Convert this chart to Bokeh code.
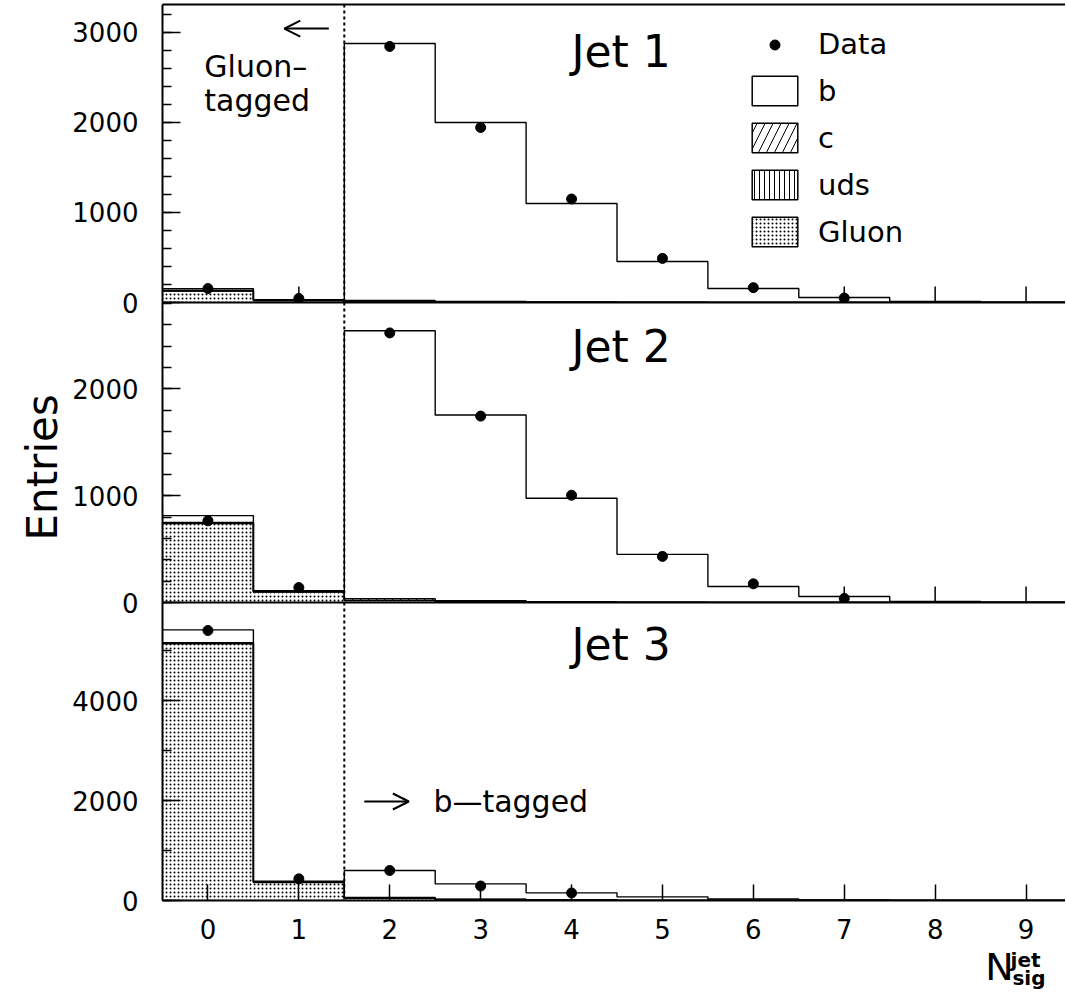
import numpy as np
from bokeh.plotting import figure
from bokeh.layouts import column
from bokeh.models import (Range1d, SingleIntervalTicker, FixedTicker, LinearAxis, Span,
                          Label, Arrow, OpenHead, Legend, LegendItem, Title)
from bokeh.embed import file_html
from bokeh.resources import INLINE

# ---------------- data ----------------
bins = [0, 1, 2, 3, 4, 5, 6, 7, 8, 9]
x_tick_labels = ["0", "1", "2", "3", "4", "5", "6", "7", "8", "9"]
jet_names = ["Jet 1", "Jet 2", "Jet 3"]
legend_labels = ["Data", "b", "c", "uds", "Gluon"]

# Jet 1
gluon_j1 = [126, 20, 5, 2, 1, 0, 0, 0, 0, 0]
uds_j1 = [3, 4, 3, 2, 1, 0, 0, 0, 0, 0]
c_j1 = [4, 4, 14, 8, 4, 2, 1, 0, 0, 0]
b_j1 = [19, 4, 2856, 1988, 1094, 453, 154, 55, 12, 3]
data_j1 = [155, 45, 2845, 1944, 1150, 490, 165, 50]

# Jet 2
gluon_j2 = [739, 97, 18, 6, 2, 1, 0, 0, 0, 0]
uds_j2 = [4, 4, 4, 2, 1, 0, 0, 0, 0, 0]
c_j2 = [6, 4, 14, 9, 4, 2, 1, 0, 0, 0]
b_j2 = [65, 5, 2509, 1739, 970, 448, 149, 56, 10, 2]
data_j2 = [765, 140, 2525, 1746, 1005, 432, 175, 38]

# Jet 3
gluon_j3 = [5133, 360, 45, 18, 6, 2, 1, 0, 0, 0]
uds_j3 = [10, 8, 5, 3, 1, 0, 0, 0, 0, 0]
c_j3 = [15, 8, 12, 7, 3, 1, 0, 0, 0, 0]
b_j3 = [255, 11, 538, 305, 143, 70, 29, 10, 3, 1]
data_j3 = [5400, 433, 600, 290, 150]

# ---------------- styling ----------------
FONT = "DejaVu Sans"
TICK_FS = "26px"
FRAME_W = 903
LEFT = 162
X_END = -0.5 + FRAME_W / 90.9
OVER = 18
edges = np.array(bins + [bins[-1] + 1], dtype=float) - 0.5

STYLE_G = dict(hatch_pattern="dot", hatch_scale=4, hatch_weight=0.75)
STYLE_UDS = dict(hatch_pattern="vertical_line", hatch_scale=5, hatch_weight=1.0)
STYLE_C = dict(hatch_pattern="right_diagonal_line", hatch_scale=16, hatch_weight=1.0)
STYLE_B = dict(hatch_pattern=None)
comp_styles = [STYLE_G, STYLE_UDS, STYLE_C, STYLE_B]


def style_yaxis(ax):
    ax.axis_line_width = 2
    ax.axis_line_color = "black"
    ax.major_tick_in = 18
    ax.major_tick_out = 0
    ax.minor_tick_in = 9
    ax.minor_tick_out = 0
    ax.major_tick_line_width = 1.5
    ax.minor_tick_line_width = 1.5
    ax.major_label_standoff = 24
    ax.major_label_text_font = FONT
    ax.major_label_text_font_size = TICK_FS
    ax.major_label_text_color = "black"


def plain_axis():
    ax = LinearAxis(ticker=FixedTicker(ticks=[]))
    ax.axis_line_width = 2
    ax.axis_line_color = "black"
    ax.major_tick_in = 0
    ax.major_tick_out = 0
    ax.minor_tick_in = 0
    ax.minor_tick_out = 0
    ax.major_label_standoff = 0
    return ax


def make_panel(comps, data, y_end, frame_h, interval, minors, top=False, bottom=False,
               overlap=0, border_bottom=OVER, border_top=0):
    p = figure(frame_width=FRAME_W, frame_height=frame_h,
               x_range=shared_x, y_range=Range1d(0, y_end),
               output_backend="svg", toolbar_location=None,
               x_axis_type=None, y_axis_type=None,
               min_border_left=LEFT, min_border_right=0, min_border_top=border_top,
               min_border_bottom=border_bottom)
    p.outline_line_color = None
    p.background_fill_color = None
    p.border_fill_color = None
    if overlap:
        p.margin = (-overlap, 0, 0, 0)

    yax = LinearAxis(ticker=SingleIntervalTicker(interval=interval, num_minor_ticks=minors))
    style_yaxis(yax)
    p.add_layout(yax, "left")

    if bottom:
        xax = LinearAxis(ticker=FixedTicker(ticks=bins),
                         major_label_overrides={b: s for b, s in zip(bins, x_tick_labels)})
        xax.axis_line_width = 2
        xax.major_tick_in = 16
        xax.major_tick_out = 0
        xax.major_tick_line_width = 1.5
        xax.minor_tick_in = 0
        xax.minor_tick_out = 0
        xax.major_label_text_font = FONT
        xax.major_label_text_color = "black"
        xax.major_label_text_font_size = TICK_FS
        xax.major_label_standoff = 18
        p.add_layout(xax, "below")
    else:
        p.add_layout(plain_axis(), "below")
        # inward x ticks at the panel bottom
        p.scatter(x=bins, y=[0] * len(bins), marker="dash", angle=np.pi / 2, size=32,
                  line_color="black", line_width=1.5)

    if top:
        p.add_layout(plain_axis(), "above")

    # stacked histogram fills
    lower = np.zeros(len(bins))
    levels = []
    for comp, st in zip(comps, comp_styles):
        upper = lower + np.array(comp, dtype=float)
        p.quad(left=edges[:-1], right=edges[1:], bottom=lower, top=upper,
               fill_color="white", line_alpha=0, hatch_color="black", **st)
        levels.append(upper)
        lower = upper
    # outlines
    for lev in levels:
        p.step(x=edges, y=np.append(lev, lev[-1]), mode="after",
               line_color="black", line_width=1.4)

    dr = p.scatter(x=bins[:len(data)], y=data, size=10, color="black")

    p.add_layout(Span(location=1.5, dimension="height", line_dash="3 3",
                      line_width=2, line_color="black"))
    return p, dr


shared_x = Range1d(-0.5, X_END)

p1, d1 = make_panel([gluon_j1, uds_j1, c_j1, b_j1], data_j1, 3311, 298, 1000, 5,
                    top=True, border_top=4)
p2, d2 = make_panel([gluon_j2, uds_j2, c_j2, b_j2], data_j2, 2810, 300, 1000, 5,
                    overlap=OVER)
p3, d3 = make_panel([gluon_j3, uds_j3, c_j3, b_j3], data_j3, 5960, 298, 2000, 2,
                    bottom=True, overlap=OVER, border_bottom=56)

# "Entries" as a left-side title of the middle panel, anchored near its bottom
p2.add_layout(Title(text="Entries", align="left", offset=62, standoff=5,
                    text_font=FONT, text_font_size="42px", text_font_style="normal",
                    text_color="black"), "left")

# Jet labels
for p, name, yv in [(p1, jet_names[0], 2789), (p2, jet_names[1], 2397), (p3, jet_names[2], 5120)]:
    p.add_layout(Label(x=4.0, y=yv, text=name, text_font=FONT, text_font_size="44px",
                       text_baseline="middle", text_color="black"))


# Legend: hidden proxy renderers (one bin each) carrying the box styles
def proxy(comp, st):
    return p1.quad(left=edges[:1], right=edges[1:2], bottom=[0], top=comp[:1],
                   fill_color="white", line_color="black", line_width=1.5,
                   hatch_color="black", visible=False, **st)


proxy_b = proxy(b_j1, STYLE_B)
proxy_c = proxy(c_j1, STYLE_C)
proxy_uds = proxy(uds_j1, STYLE_UDS)
proxy_g = proxy(gluon_j1, STYLE_G)

LEG_COMMON = dict(glyph_width=57, label_height=30, label_standoff=15, padding=0, margin=0,
                  border_line_alpha=0, background_fill_alpha=0, inactive_fill_alpha=0,
                  label_text_font=FONT, label_text_font_size="29px",
                  label_text_color="black")
legend_data = Legend(items=[LegendItem(label=legend_labels[0], renderers=[d1])],
                     location=(584, 241), glyph_height=25, spacing=0, **LEG_COMMON)
legend_mc = Legend(items=[LegendItem(label=legend_labels[1], renderers=[proxy_b]),
                          LegendItem(label=legend_labels[2], renderers=[proxy_c]),
                          LegendItem(label=legend_labels[3], renderers=[proxy_uds]),
                          LegendItem(label=legend_labels[4], renderers=[proxy_g])],
                   location=(584, 52), glyph_height=37, spacing=10, **LEG_COMMON)
p1.add_layout(legend_data)
p1.add_layout(legend_mc)

# Gluon-tagged / b-tagged annotations
p1.add_layout(Label(x=-0.04, y=2622, text="Gluon–", text_font=FONT, text_font_size="30px",
                    text_baseline="middle", text_color="black"))
p1.add_layout(Label(x=-0.04, y=2244, text="tagged", text_font=FONT, text_font_size="30px",
                    text_baseline="middle", text_color="black"))
p1.add_layout(Arrow(x_start=1.33, y_start=3044, x_end=0.84, y_end=3044, line_width=2,
                    end=OpenHead(size=16, line_width=2)))
p3.add_layout(Arrow(x_start=1.72, y_start=1980, x_end=2.21, y_end=1980, line_width=2,
                    end=OpenHead(size=16, line_width=2)))
p3.add_layout(Label(x=2.48, y=1980, text="b—tagged", text_font=FONT, text_font_size="30px",
                    text_baseline="middle", text_color="black"))

# x-axis title N_sig^jet in a small transparent strip under the bottom panel
pt = figure(frame_width=FRAME_W, frame_height=63, x_range=shared_x, y_range=Range1d(0, 63),
            output_backend="svg", toolbar_location=None, x_axis_type=None, y_axis_type=None,
            min_border_left=LEFT, min_border_right=0, min_border_top=0, min_border_bottom=0)
pt.outline_line_color = None
pt.background_fill_color = None
pt.border_fill_color = None
pt.margin = (-16, 0, 0, 0)
pt.add_layout(Label(x=8.55, y=37, y_units="screen", text="N", text_font=FONT,
                    text_font_size="38px", text_baseline="middle", text_color="black"))
pt.add_layout(Label(x=8.83, y=44, y_units="screen", text="jet", text_font=FONT,
                    text_font_size="20px", text_font_style="bold", text_baseline="middle",
                    text_color="black"))
pt.add_layout(Label(x=8.85, y=26, y_units="screen", text="sig", text_font=FONT,
                    text_font_size="20px", text_font_style="bold", text_baseline="middle",
                    text_color="black"))

layout = column(p1, p2, p3, pt, spacing=0)
open("out.html", "w").write(file_html(layout, INLINE))
